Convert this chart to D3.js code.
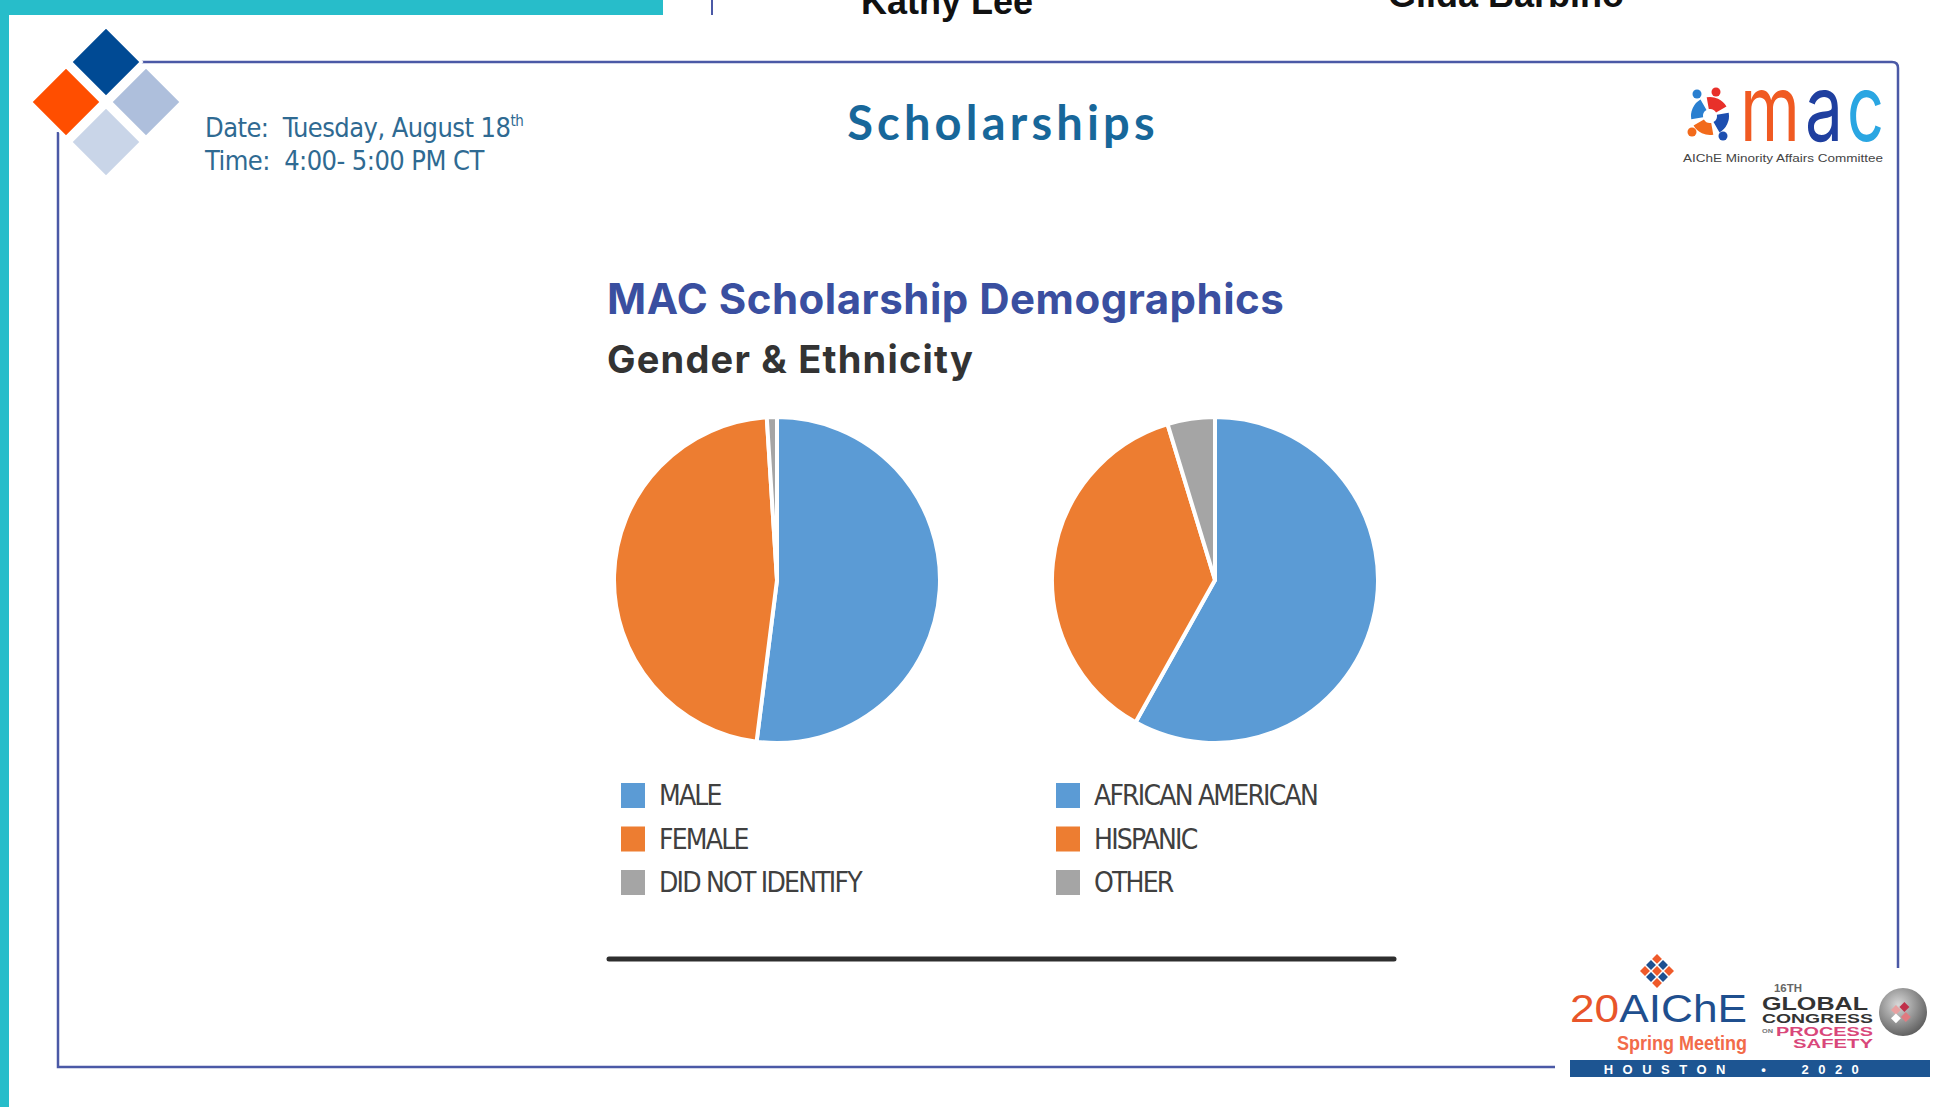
<!DOCTYPE html>
<html>
<head>
<meta charset="utf-8">
<script src="https://cdn.jsdelivr.net/npm/d3@7"></script>
<style>
  html, body { margin: 0; padding: 0; background: #fff; overflow: hidden; }
  svg { display: block; }
  text { white-space: pre; }
</style>
</head>
<body>
<svg id="slide" width="1949" height="1107"></svg>
<script>
// chart data
const genderLabels = ["MALE", "FEMALE", "DID NOT IDENTIFY"];
const genderValues = [52, 47, 1];
const ethnicityLabels = ["AFRICAN AMERICAN", "HISPANIC", "OTHER"];
const ethnicityValues = [58.1, 37.2, 4.7];
const sliceColors = ["#5b9bd5", "#ed7d31", "#a5a5a5"];
const chartTitle = "MAC Scholarship Demographics";
const chartSubtitle = "Gender & Ethnicity";
const slideTitle = "Scholarships";
const dateLine = "Date:  Tuesday, August 18";
const timeLine = "Time:  4:00- 5:00 PM CT";
const speakers = ["Kathy Lee", "Gilda Barbino"];

const svg = d3.select("#slide");
const frameColor = "#4b59a6";
const narrow = "Liberation Sans Narrow, DejaVu Sans Condensed, sans-serif";

// slide chrome
svg.append("rect").attr("x", 0).attr("y", 0).attr("width", 663).attr("height", 15).attr("fill", "#27bdca");
svg.append("rect").attr("x", 0).attr("y", 0).attr("width", 9).attr("height", 1107).attr("fill", "#27bdca");
svg.append("line").attr("x1", 712).attr("x2", 712).attr("y1", 0).attr("y2", 15)
  .attr("stroke", frameColor).attr("stroke-width", 2);
svg.append("text").text(speakers[0]).attr("x", 861).attr("y", 14)
  .attr("font-family", "Liberation Sans, Arial, sans-serif").attr("font-weight", 700)
  .attr("font-size", 36).attr("fill", "#111");
svg.append("text").text(speakers[1]).attr("x", 1388).attr("y", 7)
  .attr("font-family", "Liberation Sans, Arial, sans-serif").attr("font-weight", 700)
  .attr("font-size", 36).attr("fill", "#111");

// frame
svg.append("path")
  .attr("d", "M138,62 H1892 Q1898,62 1898,68 V968")
  .attr("fill", "none").attr("stroke", frameColor).attr("stroke-width", 2.5);
svg.append("path")
  .attr("d", "M58,132 V1067 H1555")
  .attr("fill", "none").attr("stroke", frameColor).attr("stroke-width", 2.5);

// corner diamonds
const diamonds = [
  { cx: 106, cy: 62, c: "#004a94" },
  { cx: 66, cy: 102, c: "#ff4e00" },
  { cx: 146, cy: 102, c: "#aebfdc" },
  { cx: 106, cy: 142, c: "#c9d5e8" },
];
svg.append("g").selectAll("rect").data(diamonds).join("rect")
  .attr("x", -25).attr("y", -25).attr("width", 50).attr("height", 50)
  .attr("transform", d => `translate(${d.cx},${d.cy}) rotate(45)`)
  .attr("fill", d => d.c).attr("stroke", "#fff").attr("stroke-width", 3);

// date / time
const dateText = svg.append("text").attr("x", 205).attr("y", 137)
  .attr("font-family", narrow).attr("font-size", 27).attr("letter-spacing", -0.55)
  .attr("fill", "#2f6a92");
dateText.append("tspan").text(dateLine);
dateText.append("tspan").text("th").attr("font-size", 15).attr("dy", -11);
svg.append("text").text(timeLine).attr("x", 205).attr("y", 170)
  .attr("font-family", narrow).attr("font-size", 27).attr("letter-spacing", -0.55)
  .attr("fill", "#2f6a92");

// slide title
svg.append("text").text(slideTitle).attr("x", 1003).attr("y", 140)
  .attr("text-anchor", "middle").attr("font-family", "Lato, sans-serif")
  .attr("font-weight", 700).attr("font-size", 47).attr("letter-spacing", 4.2)
  .attr("fill", "#17679a");

// mac logo
const macIcon = svg.append("g").attr("transform", "translate(1710,116)");
const iconArc = d3.arc().innerRadius(7).outerRadius(19);
const iconParts = [
  { a: -100, c: "#2a7fd0", hx: -13, hy: -22 },
  { a: -10, c: "#e8302a", hx: 6, hy: -24 },
  { a: 80, c: "#1d4fb0", hx: 13, hy: 20 },
  { a: 170, c: "#f26a1b", hx: -18, hy: 16 },
];
macIcon.selectAll("path").data(iconParts).join("path")
  .attr("d", d => iconArc({ startAngle: d.a * Math.PI / 180, endAngle: (d.a + 70) * Math.PI / 180 }))
  .attr("fill", d => d.c);
macIcon.selectAll("circle").data(iconParts).join("circle")
  .attr("cx", d => d.hx).attr("cy", d => d.hy).attr("r", 4.5).attr("fill", d => d.c);
const macLetters = [
  { t: "m", x: 1740, w: 60, c: "#f05a22" },
  { t: "a", x: 1805, w: 38, c: "#1f3f9f" },
  { t: "c", x: 1847, w: 37, c: "#2aa6e2" },
];
svg.append("g").selectAll("text").data(macLetters).join("text")
  .text(d => d.t).attr("x", d => d.x).attr("y", 141)
  .attr("textLength", d => d.w).attr("lengthAdjust", "spacingAndGlyphs")
  .attr("font-family", "Inter, sans-serif").attr("font-weight", 400)
  .attr("font-size", 92).attr("fill", d => d.c);
svg.append("text").text("AIChE Minority Affairs Committee").attr("x", 1683).attr("y", 162)
  .attr("textLength", 200).attr("lengthAdjust", "spacingAndGlyphs")
  .attr("font-family", "Liberation Sans, Arial, sans-serif").attr("font-size", 11).attr("fill", "#444");

// chart headings
svg.append("text").text(chartTitle).attr("x", 607).attr("y", 314)
  .attr("font-family", "Inter, sans-serif").attr("font-weight", 700)
  .attr("font-size", 42).attr("letter-spacing", 0.5).attr("fill", "#3a4fa0");
svg.append("text").text(chartSubtitle).attr("x", 607).attr("y", 373)
  .attr("font-family", "Inter, sans-serif").attr("font-weight", 700)
  .attr("font-size", 38).attr("letter-spacing", 1.2).attr("fill", "#333");

// pies
const charts = [
  { key: "gender", labels: genderLabels, values: genderValues },
  { key: "ethnicity", labels: ethnicityLabels, values: ethnicityValues },
];
const pieX = d3.scalePoint().domain(charts.map(d => d.key)).range([777, 1215]);
const legendX = d3.scalePoint().domain(charts.map(d => d.key)).range([621, 1056]);
const legendY = d3.scalePoint().domain([0, 1, 2]).range([795, 882]);
const color = d3.scaleOrdinal().domain([0, 1, 2]).range(sliceColors);
const pie = d3.pie().sort(null).value(d => d);
const arc = d3.arc().innerRadius(0).outerRadius(163);

for (const chart of charts) {
  const g = svg.append("g").attr("transform", `translate(${pieX(chart.key)},580)`);
  g.selectAll("path").data(pie(chart.values)).join("path")
    .attr("d", arc)
    .attr("fill", (d, i) => color(i))
    .attr("stroke", "#fff").attr("stroke-width", 4).attr("stroke-linejoin", "round");

  const legend = svg.append("g");
  const rows = legend.selectAll("g").data(chart.labels).join("g")
    .attr("transform", (d, i) => `translate(${legendX(chart.key)},${legendY(i)})`);
  rows.append("rect").attr("x", 0).attr("y", -12).attr("width", 24).attr("height", 25)
    .attr("fill", (d, i) => color(i));
  rows.append("text").text(d => d).attr("x", 38).attr("y", 10)
    .attr("font-family", narrow)
    .attr("font-size", 28).attr("letter-spacing", -1.8).attr("fill", "#404040");
}

// rule under the chart
svg.append("line").attr("x1", 609).attr("x2", 1394).attr("y1", 959).attr("y2", 959)
  .attr("stroke", "#2e2e2e").attr("stroke-width", 5).attr("stroke-linecap", "round");

// AIChE spring meeting logo
const logo = svg.append("g");
const cluster = logo.append("g").attr("transform", "translate(1657,972) rotate(45)");
const cells = d3.range(9).map(i => ({ r: Math.floor(i / 3), c: i % 3 }));
cluster.selectAll("rect").data(cells).join("rect")
  .attr("x", d => (d.c - 1.5) * 8.5).attr("y", d => (d.r - 1.5) * 8.5)
  .attr("width", 7).attr("height", 7)
  .attr("fill", d => (d.r + d.c) % 2 === 0 ? "#ef5a2a" : "#1e5090");
const aiche = logo.append("text").attr("x", 1570).attr("y", 1022)
  .attr("textLength", 177).attr("lengthAdjust", "spacingAndGlyphs")
  .attr("font-family", "Liberation Sans, Arial, sans-serif").attr("font-size", 38);
aiche.append("tspan").text("20").attr("fill", "#e8552a");
aiche.append("tspan").text("AIChE").attr("fill", "#1f4f8e");
logo.append("text").text("Spring Meeting").attr("x", 1617).attr("y", 1050)
  .attr("textLength", 130).attr("lengthAdjust", "spacingAndGlyphs")
  .attr("font-family", "Liberation Sans Narrow, Liberation Sans, sans-serif").attr("font-weight", 700)
  .attr("font-size", 21).attr("fill", "#f26b4a");
const congress = [
  { t: "16TH", x: 1774, y: 992, w: 28, s: 10, c: "#666" },
  { t: "GLOBAL", x: 1762, y: 1010, w: 106, s: 18, c: "#333" },
  { t: "CONGRESS", x: 1762, y: 1023, w: 111, s: 12, c: "#333" },
  { t: "ON", x: 1762, y: 1033, w: 11, s: 6, c: "#777" },
  { t: "PROCESS", x: 1776, y: 1036, w: 97, s: 12, c: "#d9477a" },
  { t: "SAFETY", x: 1793, y: 1048, w: 80, s: 12, c: "#d9477a" },
];
logo.selectAll(".cg").data(congress).join("text").attr("class", "cg")
  .text(d => d.t).attr("x", d => d.x).attr("y", d => d.y)
  .attr("textLength", d => d.w).attr("lengthAdjust", "spacingAndGlyphs")
  .attr("font-family", "Liberation Sans, Arial, sans-serif").attr("font-weight", 700)
  .attr("font-size", d => d.s).attr("fill", d => d.c);
const grad = svg.append("defs").append("radialGradient").attr("id", "globe")
  .attr("cx", "40%").attr("cy", "35%").attr("r", "70%");
grad.append("stop").attr("offset", "0%").attr("stop-color", "#d8d8d8");
grad.append("stop").attr("offset", "100%").attr("stop-color", "#5a5a5a");
logo.append("circle").attr("cx", 1903).attr("cy", 1012).attr("r", 24).attr("fill", "url(#globe)");
const globeMarks = [
  { x: -6, y: -8, c: "#c0304a" },
  { x: 2, y: -2, c: "#e07a80" },
  { x: -10, y: 0, c: "#e8a0a0" },
  { x: -4, y: 6, c: "#fff" },
];
logo.append("g").attr("transform", "translate(1903,1012) rotate(45)")
  .selectAll("rect").data(globeMarks).join("rect")
  .attr("x", d => d.x).attr("y", d => d.y).attr("width", 7).attr("height", 7).attr("fill", d => d.c);
logo.append("rect").attr("x", 1570).attr("y", 1060).attr("width", 360).attr("height", 17).attr("fill", "#1d5592");
logo.append("text").text("HOUSTON  •  2020").attr("x", 1736).attr("y", 1074)
  .attr("text-anchor", "middle").attr("letter-spacing", 9.5)
  .attr("font-family", "Liberation Sans, Arial, sans-serif").attr("font-weight", 700)
  .attr("font-size", 13).attr("fill", "#fff");
</script>
</body>
</html>
